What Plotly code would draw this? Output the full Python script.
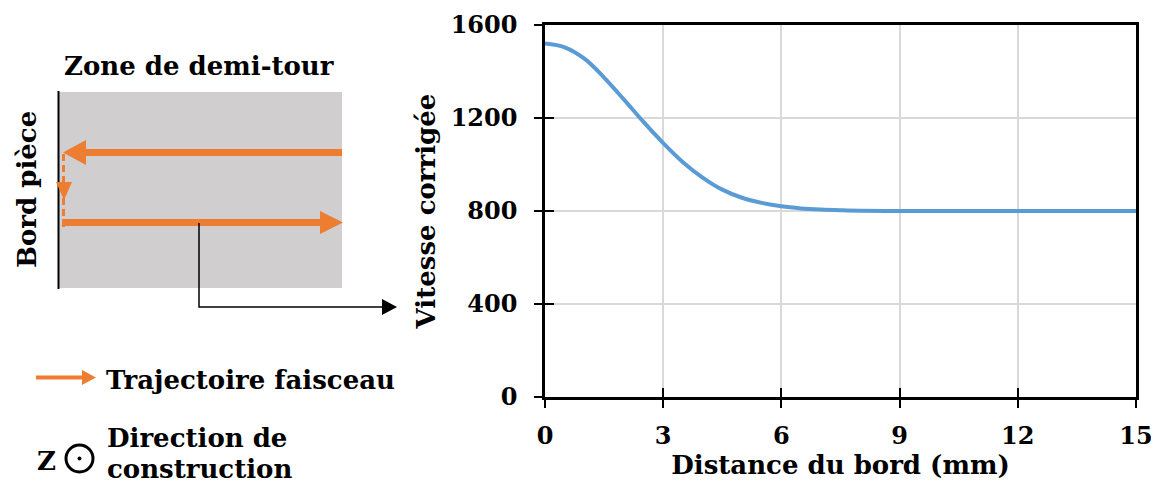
import plotly.graph_objects as go

# ---- data ----
distance_mm = [0, 0.5, 1, 1.5, 2, 2.5, 3, 3.5, 4, 4.5, 5, 5.5, 6, 6.5, 7, 7.5, 8, 9, 10, 11, 12, 13, 14, 15]
vitesse_corrigee = [1520, 1504, 1455, 1374, 1280, 1183, 1092, 1010, 944, 892, 857, 835, 820, 811,
                    806, 803, 801, 800, 800, 800, 800, 800, 800, 800]
x_tick_vals = [0, 3, 6, 9, 12, 15]
y_tick_vals = [0, 400, 800, 1200, 1600]
x_title = "Distance du bord (mm)"
y_title = "Vitesse corrigée"

# ---- style ----
W, H = 1159, 488
OFF = 8  # page body margin
FONT = "DejaVu Serif"
FS = 24
FS_T = 26
ORANGE = "#ED7D31"
BLUE = "#5B9BD5"
GRAY = "#D0CECE"
GRID = "#D9D9D9"


def px(x):
    return (x - OFF) / W


def py(y):
    return 1 - (y - OFF) / H


def path(points, close=True):
    s = "M " + " L ".join(f"{px(x):.5f},{py(y):.5f}" for x, y in points)
    return s + (" Z" if close else "")


fig = go.Figure()
fig.add_trace(go.Scatter(
    x=distance_mm, y=vitesse_corrigee, mode="lines",
    line=dict(color=BLUE, width=4, shape="spline", smoothing=1.0),
    showlegend=False, hoverinfo="skip"))
# invisible trace for the overlay axes carrying the inner half of the crossing ticks
fig.add_trace(go.Scatter(x=[0], y=[0], xaxis="x2", yaxis="y2", mode="markers",
                         marker=dict(opacity=0), showlegend=False, hoverinfo="skip"))

xdom = [px(545), px(1136)]
ydom = [py(397), py(25)]
tickfont = dict(family=FONT, size=FS, color="black", weight="bold")
titlefont = dict(family=FONT, size=FS_T, color="black", weight="bold")

fig.update_layout(
    width=W, height=H,
    margin=dict(l=0, r=0, t=0, b=0),
    paper_bgcolor="white", plot_bgcolor="white",
    font=dict(family=FONT, size=FS, color="black", weight="bold"),
    xaxis=dict(domain=xdom, range=[0, 15], tickvals=x_tick_vals, ticks="outside", ticklen=8,
               tickwidth=2, tickcolor="black", showline=True, linecolor="black", linewidth=2.5,
               mirror=True, showgrid=True, gridcolor=GRID, gridwidth=1.5, zeroline=False,
               tickfont=tickfont, ticklabelstandoff=7, automargin=False,
               title=dict(text=x_title, font=titlefont, standoff=2)),
    yaxis=dict(domain=ydom, range=[0, 1600], tickvals=y_tick_vals, ticks="outside", ticklen=8,
               tickwidth=2, tickcolor="black", showline=True, linecolor="black", linewidth=2.5,
               mirror=True, showgrid=True, gridcolor=GRID, gridwidth=1.5, zeroline=False,
               tickfont=tickfont, ticklabelstandoff=12, automargin=False,
               title=dict(text=y_title, font=titlefont, standoff=8)),
    xaxis2=dict(domain=xdom, range=[0, 15], overlaying="x", anchor="y2", tickvals=x_tick_vals,
                ticks="inside", ticklen=9, tickwidth=2, tickcolor="black", showticklabels=False,
                showgrid=False, zeroline=False, showline=False),
    yaxis2=dict(domain=ydom, range=[0, 1600], overlaying="y", anchor="x2", tickvals=y_tick_vals,
                ticks="inside", ticklen=9, tickwidth=2, tickcolor="black", showticklabels=False,
                showgrid=False, zeroline=False, showline=False),
)

shapes = []
# gray zone and part edge
shapes.append(dict(type="rect", xref="paper", yref="paper", x0=px(59), x1=px(342), y0=py(288), y1=py(92),
                   fillcolor=GRAY, line=dict(width=0), layer="below"))
shapes.append(dict(type="line", xref="paper", yref="paper", x0=px(58.5), x1=px(58.5), y0=py(289), y1=py(91),
                   line=dict(color="black", width=2)))
# upper arrow (right to left)
shapes.append(dict(type="line", xref="paper", yref="paper", x0=px(84), x1=px(342), y0=py(152.5), y1=py(152.5),
                   line=dict(color=ORANGE, width=7)))
shapes.append(dict(type="path", xref="paper", yref="paper",
                   path=path([(63, 152.5), (86, 140), (86, 165)]), fillcolor=ORANGE, line=dict(width=0)))
# dashed connector with down arrow
shapes.append(dict(type="line", xref="paper", yref="paper", x0=px(63.5), x1=px(63.5), y0=py(227), y1=py(153),
                   line=dict(color=ORANGE, width=3, dash="7px,4px")))
shapes.append(dict(type="path", xref="paper", yref="paper",
                   path=path([(64, 200), (56, 182), (72, 182)]), fillcolor=ORANGE, line=dict(width=0)))
# lower arrow (left to right)
shapes.append(dict(type="line", xref="paper", yref="paper", x0=px(62), x1=px(322), y0=py(222.5), y1=py(222.5),
                   line=dict(color=ORANGE, width=7)))
shapes.append(dict(type="path", xref="paper", yref="paper",
                   path=path([(343, 222.5), (320, 211), (320, 234)]), fillcolor=ORANGE, line=dict(width=0)))
# black leader to chart
shapes.append(dict(type="path", xref="paper", yref="paper",
                   path=path([(199, 223), (199, 307), (384, 307)], close=False),
                   line=dict(color="black", width=1.5)))
shapes.append(dict(type="path", xref="paper", yref="paper",
                   path=path([(397, 307), (382, 299), (382, 315)]), fillcolor="black", line=dict(width=0)))
# legend arrow
shapes.append(dict(type="line", xref="paper", yref="paper", x0=px(36), x1=px(84), y0=py(377.5), y1=py(377.5),
                   line=dict(color=ORANGE, width=4)))
shapes.append(dict(type="path", xref="paper", yref="paper",
                   path=path([(96, 377.5), (82, 370), (82, 385)]), fillcolor=ORANGE, line=dict(width=0)))
# build direction symbol
shapes.append(dict(type="circle", xref="paper", yref="paper", x0=px(66), x1=px(93), y0=py(472), y1=py(445),
                   line=dict(color="black", width=3)))
shapes.append(dict(type="circle", xref="paper", yref="paper", x0=px(77.5), x1=px(81.5), y0=py(460.5), y1=py(456.5),
                   fillcolor="black", line=dict(width=0)))
fig.update_layout(shapes=shapes)

ann_font = dict(family=FONT, size=FS_T, color="black", weight="bold")


def note(text, x, y, xanchor="center", yanchor="middle", angle=0):
    fig.add_annotation(text=text, xref="paper", yref="paper", x=px(x), y=py(y), xanchor=xanchor,
                       yanchor=yanchor, showarrow=False, font=ann_font, textangle=angle)


note("Zone de demi-tour", 199, 66)
note("Bord pièce", 27, 190, angle=-90)
note("Trajectoire faisceau", 104, 380, xanchor="left")
note("Direction de", 105, 438, xanchor="left")
note("construction", 105, 469, xanchor="left")
note("Z", 46, 461)

fig.write_html("out.html")
